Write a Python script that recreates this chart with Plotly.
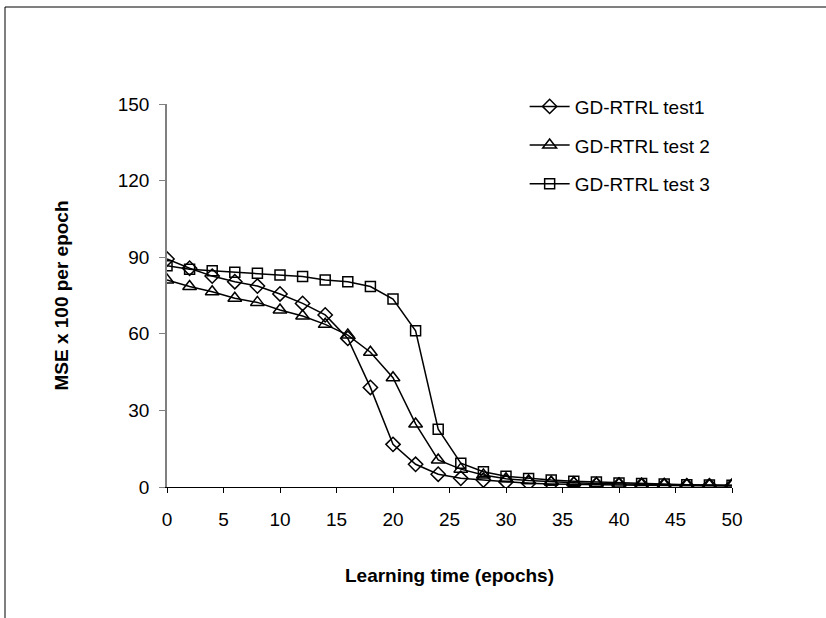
import plotly.graph_objects as go

epochs = [0, 2, 4, 6, 8, 10, 12, 14, 16, 18, 20, 22, 24, 26, 28, 30, 32, 34, 36, 38, 40, 42, 44, 46, 48, 50]
test1 = [89.3, 85.7, 82.6, 80.4, 78.7, 75.6, 71.9, 67.4, 58.2, 39.0, 16.7, 8.9, 5.0, 3.4, 2.7,
         2.0, 1.5, 1.2, 1.0, 0.9, 0.8, 0.7, 0.6, 0.5, 0.5, 0.4]
test2 = [81.1, 78.5, 76.5, 73.9, 72.3, 69.3, 67.0, 63.7, 59.5, 52.8, 42.8, 24.7, 10.6, 7.0, 4.7,
         3.2, 2.5, 2.0, 1.7, 1.4, 1.2, 1.0, 0.9, 0.8, 0.7, 0.6]
test3 = [86.7, 85.3, 84.7, 84.1, 83.7, 83.0, 82.4, 81.1, 80.4, 78.5, 73.6, 61.2, 22.6, 9.3, 6.0,
         4.2, 3.3, 2.7, 2.3, 2.0, 1.6, 1.4, 1.2, 0.9, 0.8, 0.7]
names = ["GD-RTRL test1", "GD-RTRL test 2", "GD-RTRL test 3"]
x_ticks = [0, 5, 10, 15, 20, 25, 30, 35, 40, 45, 50]
y_ticks = [0, 30, 60, 90, 120, 150]

symbols = ["diamond-open", "triangle-up-open", "square-open"]
sizes = [11, 12, 10]

fig = go.Figure()
for i, (name, ys) in enumerate(zip(names, [test1, test2, test3])):
    fig.add_trace(go.Scatter(
        x=epochs, y=ys, name=name, mode="lines+markers",
        legendgroup=f"g{i}",
        line=dict(color="black", width=1.5),
        marker=dict(symbol=symbols[i], size=sizes[i], color="black",
                    line=dict(color="black", width=1.5)),
    ))

fig.update_layout(
    width=826, height=618,
    margin=dict(l=167, r=94, t=104, b=131),
    paper_bgcolor="white", plot_bgcolor="white",
    font=dict(family="Arial, Liberation Sans, sans-serif", size=19, color="black"),
    showlegend=True,
    legend=dict(x=0.633, y=1.043, xanchor="left", yanchor="top",
                bgcolor="rgba(0,0,0,0)", tracegroupgap=11, itemwidth=40,
                font=dict(size=19)),
    xaxis=dict(range=[0, 50], tickvals=x_ticks, showgrid=False, zeroline=False,
               showline=True, linecolor="black", linewidth=1,
               ticks="outside", ticklen=5, tickcolor="black",
               ticklabelstandoff=10,
               title=dict(text="<b>Learning time (epochs)</b>", font=dict(size=19), standoff=39)),
    yaxis=dict(range=[0, 150], tickvals=y_ticks, showgrid=False, zeroline=False,
               showline=True, linecolor="#808080", linewidth=1.5,
               ticks="outside", ticklen=6, tickcolor="#808080",
               ticklabelstandoff=6,
               title=dict(text="<b>MSE x 100 per epoch</b>", font=dict(size=19), standoff=44)),
    shapes=[dict(type="rect", xref="paper", yref="paper",
                 x0=(5 - 167) / 565, x1=2.0, y0=-1.0, y1=1 + (104 - 7) / 383,
                 line=dict(color="black", width=1), layer="below")],
)

fig.write_html("out.html")
